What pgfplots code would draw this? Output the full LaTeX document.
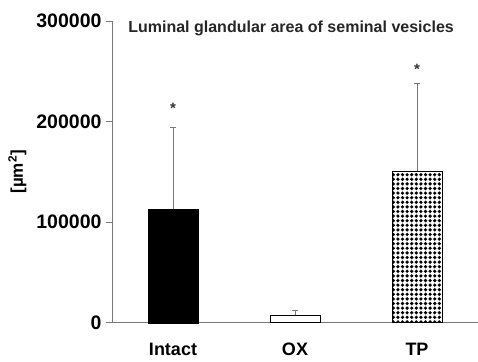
\documentclass[border=0pt]{standalone}
\usepackage{fontspec}
\setmainfont{Liberation Sans}
\usepackage{pgfplots}
\pgfplotsset{compat=1.18}
\usetikzlibrary{patterns}
\pgfdeclarepatternformonly{bigdots}{\pgfqpoint{-1pt}{-1pt}}{\pgfqpoint{5.6pt}{5.6pt}}{\pgfqpoint{4.6pt}{4.6pt}}{%
  \pgfpathcircle{\pgfqpoint{2.3pt}{2.3pt}}{1.8pt}\pgfusepath{fill}}
\definecolor{axgray}{RGB}{120,120,120}
\begin{document}
\begin{tikzpicture}
\path[use as bounding box] (-112pt,-38.3pt) rectangle (366pt,322.7pt);
\begin{axis}[
  at={(0pt,0pt)}, anchor=south west,
  scale only axis, width=366pt, height=301.7pt,
  xmin=0.5, xmax=3.5, ymin=0, ymax=300000,
  axis x line=bottom, axis y line=left,
  axis line style={axgray, -, line width=0.8pt},
  xtick={1,2,3}, xticklabels={Intact,OX,TP},
  extra x ticks={1.5,2.5,3.5}, extra x tick labels={},
  extra x tick style={major tick length=6pt, tick style={axgray, line width=0.8pt}},
  x tick style={draw=none},
  ytick={0,100000,200000,300000},
  y tick style={axgray, line width=0.8pt},
  tick align=outside, major tick length=6pt,
  scaled y ticks=false,
  yticklabel style={/pgf/number format/fixed, /pgf/number format/1000 sep={}, font=\fontsize{19.5}{21}\selectfont\bfseries, xshift=-1pt},
  /pgf/number format/assume math mode=true,
  xticklabel style={font=\fontsize{18}{20}\selectfont\bfseries, yshift=-11pt},
  ylabel={[µm\textsuperscript{2}]},
  ylabel style={font=\fontsize{17}{19}\selectfont\bfseries, yshift=3pt},
  clip=false,
]
\addplot[ybar, bar width=50pt, fill=black, draw=black,
  error bars/.cd, y dir=plus, y explicit,
  error bar style={axgray, line width=0.8pt},
  error mark options={rotate=90, mark size=3pt, axgray, line width=0.8pt}]
  coordinates {(1,112900) +- (0,81100)};
\addplot[ybar, bar width=50pt, fill=white, draw=black, line width=0.5pt,
  error bars/.cd, y dir=plus, y explicit,
  error bar style={axgray, line width=0.8pt},
  error mark options={rotate=90, mark size=3pt, axgray, line width=0.8pt}]
  coordinates {(2,7300) +- (0,4500)};
\addplot[ybar, bar width=50pt, pattern=bigdots, draw=black, line width=0.5pt,
  error bars/.cd, y dir=plus, y explicit,
  error bar style={axgray, line width=0.8pt},
  error mark options={rotate=90, mark size=3pt, axgray, line width=0.8pt}]
  coordinates {(3,150600) +- (0,87200)};
\node[font=\fontsize{15}{17}\selectfont\bfseries, text=black!80] at (axis cs:1,213300) {*};
\node[font=\fontsize{15}{17}\selectfont\bfseries, text=black!80] at (axis cs:3,252300) {*};
\node[anchor=west, font=\fontsize{16}{18}\selectfont\bfseries, text=black!85] at (rel axis cs:0.035,0.975) {Luminal glandular area of seminal vesicles};
\end{axis}
\end{tikzpicture}
\end{document}
